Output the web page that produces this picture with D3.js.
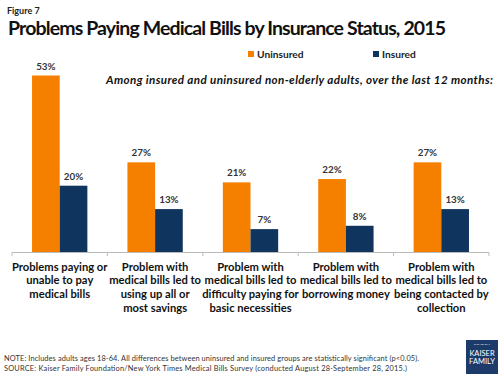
<!DOCTYPE html>
<html>
<head>
<meta charset="utf-8">
<script src="https://cdn.jsdelivr.net/npm/d3@7"></script>
<style>
  body { margin: 0; background: #fff; }
  svg text { font-family: Lato, "Open Sans", sans-serif; }
</style>
</head>
<body>
<div id="chart"></div>
<script>
// data
const categories = [
  ["Problems paying or", "unable to pay", "medical bills"],
  ["Problem with", "medical bills led to", "using up all or", "most savings"],
  ["Problem with", "medical bills led to", "difficulty paying for", "basic necessities"],
  ["Problem with", "medical bills led to", "borrowing money"],
  ["Problem with", "medical bills led to", "being contacted by", "collection"]
];
const seriesNames = ["Uninsured", "Insured"];
const uninsured = [53, 27, 21, 22, 27];
const insured = [20, 13, 7, 8, 13];
const colors = ["#F58000", "#0F345E"];

const W = 500, H = 374;
const svg = d3.select('#chart').append('svg').attr('width', W).attr('height', H);

const x = d3.scaleBand().domain(d3.range(categories.length)).range([12, 489]).paddingInner(0.42).paddingOuter(0.21);
const xs = d3.scaleBand().domain([0, 1]).range([0, x.bandwidth()]);
const y = d3.scaleLinear().domain([0, 53]).range([252.5, 75.5]);

// titles
svg.append('text').attr('x', 7).attr('y', 14).attr('font-size', 9).attr('font-weight', 700).attr('fill', '#222').text('Figure 7');
svg.append('text').attr('x', 8).attr('y', 35).attr('font-size', 19.5).attr('font-weight', 700).attr('fill', '#111')
  .attr('textLength', 438).text('Problems Paying Medical Bills by Insurance Status, 2015');
svg.append('text').attr('x', 106).attr('y', 84).attr('font-size', 11.6)
  .attr('font-weight', 700).attr('font-style', 'italic').attr('fill', '#111').attr('textLength', 387)
  .text('Among insured and uninsured non-elderly adults, over the last 12 months:');

// legend
const legend = svg.append('g').selectAll('g').data(seriesNames).enter().append('g')
  .attr('transform', (d, i) => `translate(${[248, 373][i]},51)`);
legend.append('rect').attr('width', 6).attr('height', 6).attr('fill', (d, i) => colors[i]);
legend.append('text').attr('x', 9).attr('y', 6.5).attr('font-size', 10.2).attr('font-weight', 700).attr('fill', '#222').text(d => d);

// bars
const groups = svg.append('g').selectAll('g').data(categories).enter().append('g')
  .attr('transform', (d, i) => `translate(${x(i)},0)`);
groups.each(function(d, i) {
  const g = d3.select(this);
  const v = [uninsured[i], insured[i]];
  g.selectAll('rect').data(v).enter().append('rect')
    .attr('x', (d, j) => xs(j)).attr('width', xs.bandwidth())
    .attr('y', d => y(d)).attr('height', d => y(0) - y(d))
    .attr('fill', (d, j) => colors[j]);
  g.selectAll('text.val').data(v).enter().append('text')
    .attr('class', 'val')
    .attr('x', (d, j) => xs(j) + xs.bandwidth() / 2).attr('y', d => y(d) - 6)
    .attr('text-anchor', 'middle').attr('font-size', 9.8).attr('font-weight', 700).attr('fill', '#333')
    .text(d => d + '%');
});

// axis
svg.append('line').attr('x1', 12).attr('x2', 489).attr('y1', 252.5).attr('y2', 252.5).attr('stroke', '#bbb');
svg.append('g').selectAll('line').data(d3.range(categories.length + 1)).enter().append('line')
  .attr('x1', i => 12 + i * x.step()).attr('x2', i => 12 + i * x.step())
  .attr('y1', 252.5).attr('y2', 256).attr('stroke', '#bbb');

// category labels
groups.append('text').attr('text-anchor', 'middle').attr('font-size', 11.2).attr('font-weight', 700).attr('fill', '#111')
  .selectAll('tspan').data(d => d).enter().append('tspan')
  .attr('x', x.bandwidth() / 2).attr('y', (d, k) => 270.5 + k * 13.9).text(d => d);

// footer
svg.append('text').attr('x', 4).attr('y', 361).attr('font-size', 7.4).attr('fill', '#333').attr('textLength', 415)
  .text('NOTE: Includes adults ages 18-64. All differences between  uninsured and insured groups are statistically significant (p<0.05).');
svg.append('text').attr('x', 4).attr('y', 370.5).attr('font-size', 7.4).attr('fill', '#333').attr('textLength', 403)
  .text('SOURCE: Kaiser Family Foundation/New  York Times Medical Bills Survey (conducted August 28-September  28, 2015.)');

// logo
const logo = svg.append('g').attr('transform', 'translate(466,340)');
logo.append('rect').attr('width', 32).attr('height', 34).attr('fill', '#1C3B6B');
logo.append('text').attr('x', 16).attr('y', 5).attr('text-anchor', 'middle').attr('font-size', 2.6).attr('fill', '#fff').text('THE HENRY J.');
['KAISER', 'FAMILY'].forEach((t, i) => {
  logo.append('text').attr('x', 16).attr('y', 16 + i * 8).attr('text-anchor', 'middle')
    .attr('font-family', '"Liberation Serif", serif').attr('font-size', 7.5).attr('fill', '#fff').text(t);
});
</script>
</body>
</html>
